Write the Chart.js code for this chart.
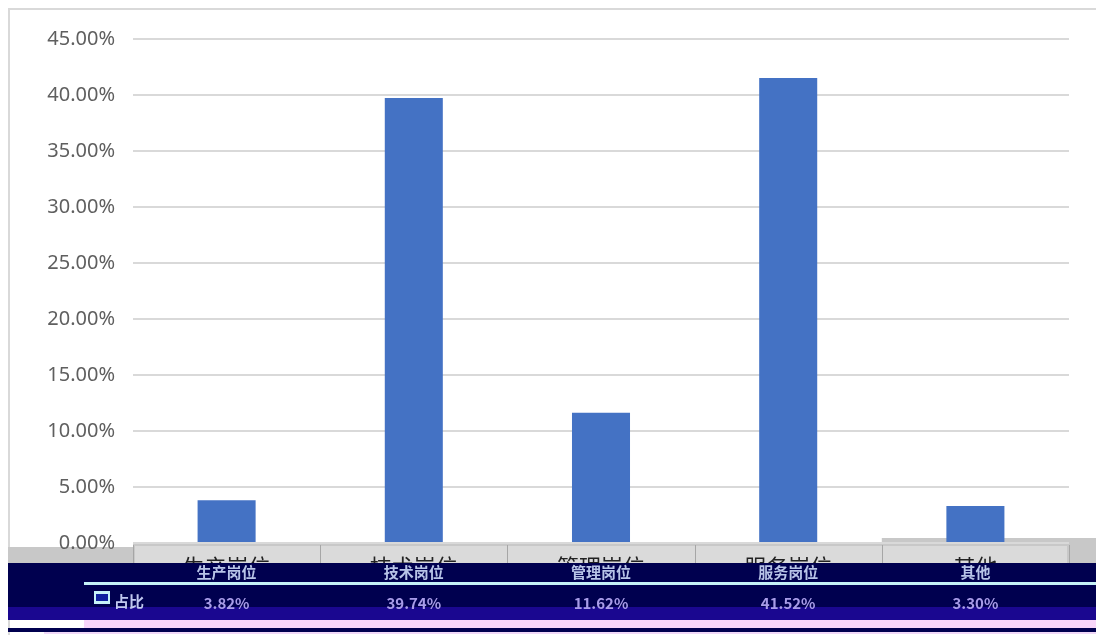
<!DOCTYPE html>
<html>
<head>
<meta charset="utf-8">
<script src="https://cdn.jsdelivr.net/npm/chart.js@4"></script>
<style>
  html, body { margin: 0; padding: 0; background: #fff; }
  #wrap { width: 1096px; height: 635px; }
</style>
</head>
<body>
<div id="wrap"><canvas id="postChart" width="1096" height="635"></canvas></div>
<script>
const categories = ["生产岗位", "技术岗位", "管理岗位", "服务岗位", "其他"];
const shares = [3.82, 39.74, 11.62, 41.52, 3.30];
const seriesName = "占比";
const yMax = 45;
const yStep = 5;

// frame + the (garbled) data table under the axis
const tablePlugin = {
    id: "tablePlugin",
    beforeDraw(chart) {
        const c = chart.ctx;
        const area = chart.chartArea;
        const step = (area.right - area.left) / categories.length;
        c.save();
        c.fillStyle = "#fff";
        c.fillRect(0, 0, chart.width, chart.height);
        c.strokeStyle = "#d9d9d9";
        c.lineWidth = 2;
        c.beginPath();
        c.moveTo(9, 635);
        c.lineTo(9, 9);
        c.lineTo(1096, 9);
        c.stroke();

        // grey header row (under the 0.00% tick)
        c.fillStyle = "#c8c8c8";
        c.fillRect(8, 547, 1088, 16);
        c.fillRect(area.left, area.bottom + 1, 1096 - area.left, 5);
        c.fillRect(area.right - step, area.bottom - 5, 1096 - area.right + step, 6);
        c.fillStyle = "#dadada";
        c.fillRect(area.left + 2, area.bottom + 3, area.right - area.left - 4, 20);
        c.strokeStyle = "#a6a6a6";
        c.lineWidth = 1;
        for (let i = 0; i <= categories.length; i++) {
            const lx = Math.round(area.left + i * step) + 0.5;
            c.beginPath();
            c.moveTo(lx, area.bottom + 2);
            c.lineTo(lx, 563);
            c.stroke();
        }
        c.restore();
    },
    afterDraw(chart) {
        const c = chart.ctx;
        const x = chart.scales.x;
        c.save();
        c.fillStyle = "#222";
        c.font = "22px 'Noto Sans CJK SC'";
        c.textAlign = "center";
        c.textBaseline = "alphabetic";
        categories.forEach((cat, i) => {
            c.fillText(cat, x.getPixelForValue(i), 575);
        });

        // dark bands
        c.fillStyle = "#00004f";
        c.fillRect(8, 563, 1088, 44);
        c.fillStyle = "#c6f2f8";
        c.fillRect(84, 582, 1012, 3);
        c.fillStyle = "#1a0790";
        c.fillRect(8, 607, 1088, 13);
        c.fillStyle = "#f8d6fa";
        c.fillRect(84, 620, 1012, 8);
        c.fillStyle = "#00004f";
        c.fillRect(8, 628, 1088, 4);
        c.fillStyle = "#f0d8f8";
        c.fillRect(44, 632, 1052, 2);

        // row 1: category names
        c.font = "bold 15px 'Noto Sans CJK SC'";
        c.fillStyle = "#b8c4e8";
        categories.forEach((cat, i) => {
            c.fillText(cat, x.getPixelForValue(i), 578);
        });

        // row 2: legend key, series name and values
        c.fillStyle = "#c6f2f8";
        c.fillRect(94, 591, 16, 13);
        c.fillStyle = "#1020a0";
        c.fillRect(96, 594, 12, 7);
        c.textAlign = "left";
        c.fillStyle = "#c0c8f0";
        c.fillText(seriesName, 114, 607);
        c.textAlign = "center";
        c.fillStyle = "#a89ce8";
        shares.forEach((v, i) => {
            c.fillText(v.toFixed(2) + "%", x.getPixelForValue(i), 609);
        });
        c.restore();
    }
};

new Chart(document.getElementById("postChart"), {
    type: "bar",
    data: {
        labels: categories,
        datasets: [{
            label: seriesName,
            data: shares,
            backgroundColor: "#4472c4",
            barPercentage: 0.62,
            categoryPercentage: 0.5
        }]
    },
    options: {
        responsive: false,
        animation: false,
        layout: { padding: { top: 39, right: 27, bottom: 84, left: 0 } },
        plugins: {
            legend: { display: false },
            tooltip: { enabled: false }
        },
        scales: {
            x: {
                grid: { display: false },
                border: { display: false },
                ticks: { display: false }
            },
            y: {
                min: 0,
                max: yMax,
                afterFit(scale) { scale.width = 133; },
                grid: { color: "#d9d9d9", lineWidth: 2, drawTicks: false },
                border: { display: false },
                ticks: {
                    stepSize: yStep,
                    padding: 18,
                    color: "#5f5f5f",
                    font: { size: 20, family: "'Noto Sans'" },
                    callback: v => v.toFixed(2) + "%"
                }
            }
        }
    },
    plugins: [tablePlugin]
});
</script>
</body>
</html>
